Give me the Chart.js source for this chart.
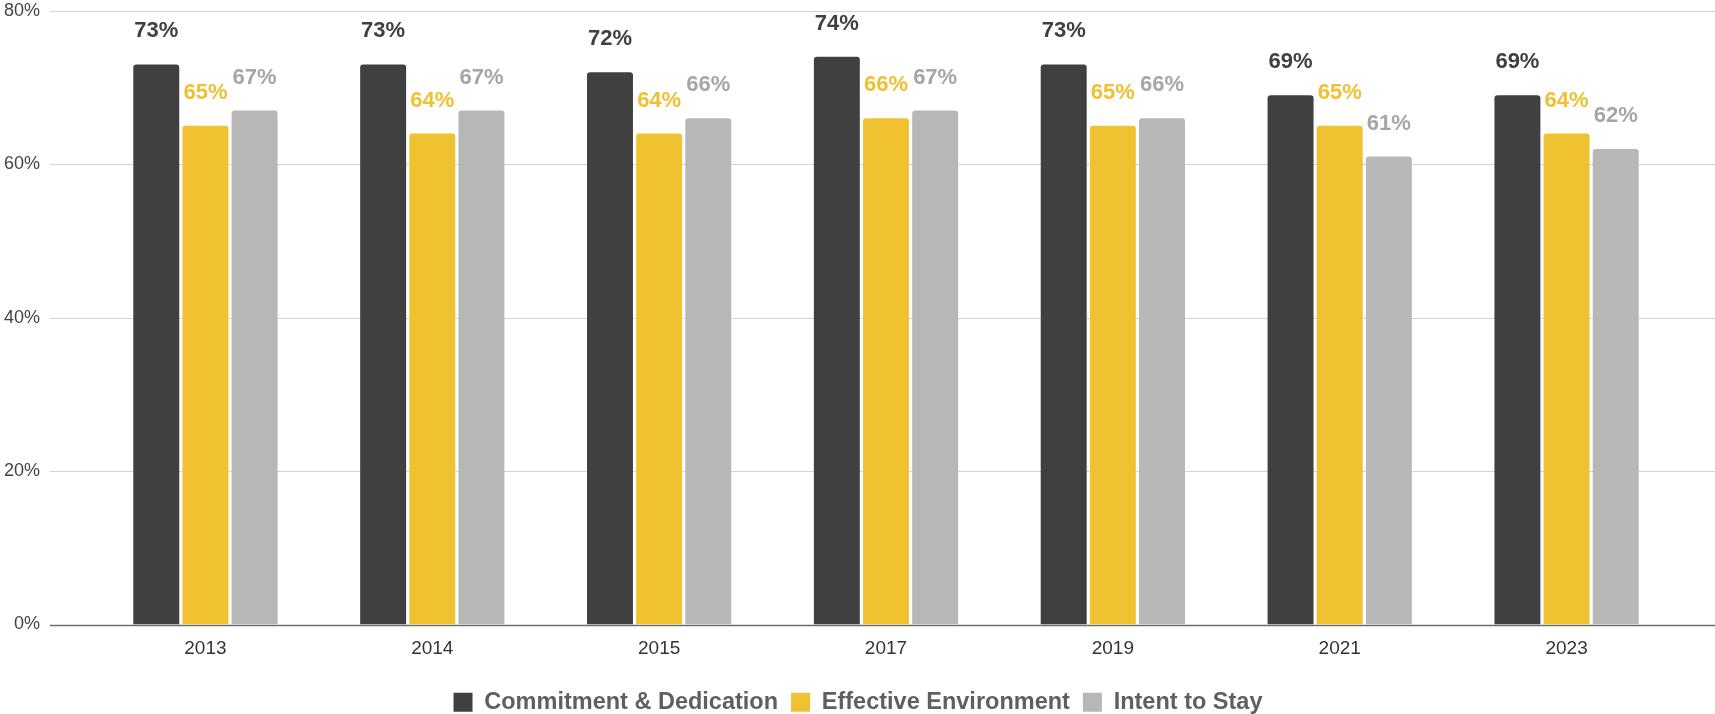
<!DOCTYPE html>
<html>
<head>
<meta charset="utf-8">
<title>Engagement by year</title>
<script src="https://cdn.jsdelivr.net/npm/chart.js@4.4.1/dist/chart.umd.min.js"></script>
<style>
    html, body { margin: 0; padding: 0; background: #fff; }
    #wrap { width: 1715px; height: 714px; }
</style>
</head>
<body>
<div id="wrap"><canvas id="engagementChart"></canvas></div>
<script>
// Survey years
const years = ['2013', '2014', '2015', '2017', '2019', '2021', '2023'];

// Series values (%)
const commitment = [73, 73, 72, 74, 73, 69, 69];
const environment = [65, 64, 64, 66, 65, 65, 64];
const intentToStay = [67, 67, 66, 67, 66, 61, 62];

// Y axis ticks
const yTicks = [0, 20, 40, 60, 80];

const FONT = '"Liberation Sans", Arial, sans-serif';

// Gridlines run wider than the category area, so draw them here
const gridPlugin = {
    id: 'wideGrid',
    beforeDatasetsDraw(chart) {
        const ctx = chart.ctx;
        const y = chart.scales.y;
        ctx.save();
        yTicks.forEach(t => {
            const py = Math.round(y.getPixelForValue(t)) + 0.5;
            ctx.beginPath();
            ctx.strokeStyle = t === 0 ? '#6e6e6e' : '#d3d3d3';
            ctx.lineWidth = t === 0 ? 1.6 : 1.2;
            ctx.moveTo(50, py);
            ctx.lineTo(chart.width, py);
            ctx.stroke();
        });
        ctx.restore();
    }
};

// Legend sits a bit right of the plot centre in the original
const legendShift = {
    id: 'legendShift',
    afterLayout(chart) {
        if (chart.legend) {
            chart.legend.left += 18;
            chart.legend.right += 18;
        }
    }
};

// Value labels above bars
const labelColors = ['#404040', '#f0c030', '#a6a6a6'];
const valueLabels = {
    id: 'valueLabels',
    afterDatasetsDraw(chart) {
        const ctx = chart.ctx;
        ctx.save();
        ctx.font = 'bold 22px ' + FONT;
        ctx.textAlign = 'center';
        ctx.textBaseline = 'alphabetic';
        chart.data.datasets.forEach((ds, i) => {
            ctx.fillStyle = labelColors[i];
            chart.getDatasetMeta(i).data.forEach((bar, j) => {
                ctx.fillText(ds.data[j] + '%', bar.x, bar.y - 27);
            });
        });
        ctx.restore();
    }
};

new Chart(document.getElementById('engagementChart'), {
    type: 'bar',
    data: {
        labels: years,
        datasets: [
            {
                label: 'Commitment & Dedication',
                data: commitment,
                backgroundColor: '#404040'
            },
            {
                label: 'Effective Environment',
                data: environment,
                backgroundColor: '#f0c232'
            },
            {
                label: 'Intent to Stay',
                data: intentToStay,
                backgroundColor: '#b7b7b7'
            }
        ]
    },
    options: {
        responsive: true,
        maintainAspectRatio: false,
        animation: false,
        layout: {
            padding: { top: 0, right: 35, bottom: -10, left: 0 }
        },
        datasets: {
            bar: {
                categoryPercentage: 0.65,
                barPercentage: 0.935,
                borderRadius: 3
            }
        },
        plugins: {
            legend: {
                position: 'bottom',
                labels: {
                    boxWidth: 19,
                    boxHeight: 19,
                    padding: 13,
                    color: '#5f5f5f',
                    font: { family: FONT, size: 23.5, weight: 'bold' }
                }
            },
            tooltip: { enabled: false }
        },
        scales: {
            x: {
                grid: { display: false, drawTicks: false },
                border: { display: false },
                afterFit(scale) {
                    scale.height = 53;
                },
                ticks: {
                    padding: 13,
                    color: '#333',
                    font: { family: FONT, size: 19 }
                }
            },
            y: {
                min: 0,
                max: 80,
                grid: { display: false, drawTicks: true, tickLength: 52 },
                border: { display: false },
                afterFit(scale) {
                    scale.width = 92;
                },
                afterBuildTicks(scale) {
                    scale.ticks = yTicks.map(v => ({ value: v }));
                },
                ticks: {
                    padding: 0,
                    color: '#444',
                    font: { family: FONT, size: 18 },
                    callback: v => v + '%'
                }
            }
        }
    },
    plugins: [gridPlugin, legendShift, valueLabels]
});
</script>
</body>
</html>
